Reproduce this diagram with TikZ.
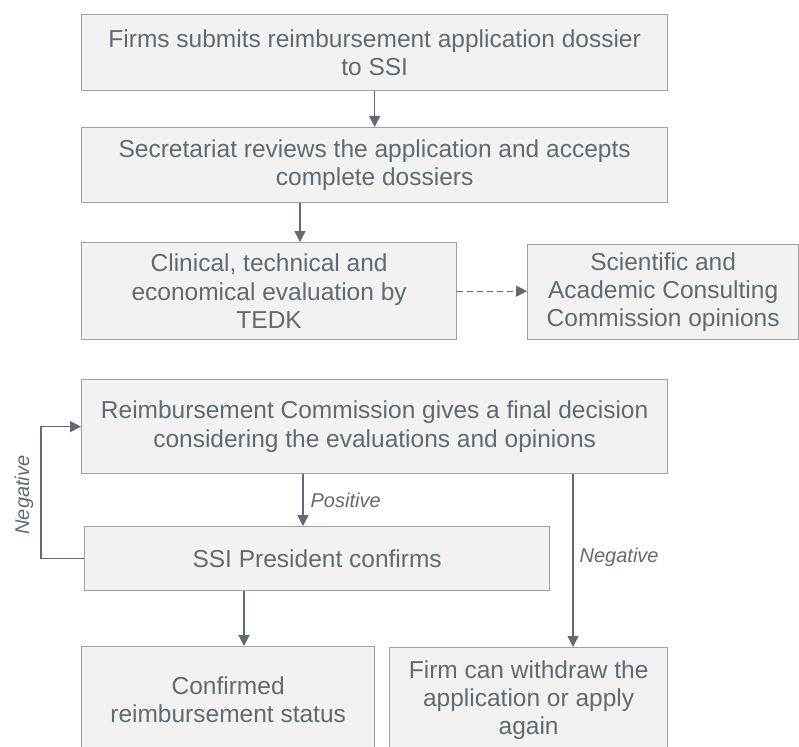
\documentclass[tikz,border=0pt]{standalone}
\usepackage{fontspec}
\setmainfont{Liberation Sans}
\usetikzlibrary{arrows.meta,calc}
\definecolor{txt}{HTML}{5F6B74}
\definecolor{boxfill}{HTML}{F2F2F2}
\definecolor{boxline}{HTML}{A0A0A0}
\definecolor{arrc}{HTML}{5F6A72}
\tikzset{
  box/.style={draw=boxline, line width=1.3pt, fill=boxfill, anchor=north west, inner sep=0pt,
    text=txt, align=center, font=\fontsize{24.5}{28.2}\selectfont},
  arr/.style={draw=arrc, line width=1.3pt, -{Triangle[length=11pt,width=11pt]}},
  lbl/.style={text=txt, font=\fontsize{20}{23}\selectfont\itshape, inner sep=0pt}
}
\begin{document}
\begin{tikzpicture}[x=1pt,y=-1pt]
\useasboundingbox (0,0) rectangle (799,746);
\clip (0,0) rectangle (799,746);
\node[box, minimum width=586pt, minimum height=76pt] (b1) at (81,14) {Firms submits reimbursement application dossier\\to SSI};
\node[box, minimum width=586pt, minimum height=75pt] (b2) at (81,127) {Secretariat reviews the application and accepts\\complete dossiers};
\node[box, minimum width=375pt, minimum height=97pt] (b3) at (81,242) {Clinical, technical and\\economical evaluation by\\TEDK};
\node[box, minimum width=271pt, minimum height=95pt] (b4) at (527,244) {Scientific and\\Academic Consulting\\Commission opinions};
\node[box, minimum width=586pt, minimum height=94pt] (b5) at (81,379) {Reimbursement Commission gives a final decision\\considering the evaluations and opinions};
\node[box, minimum width=465pt, minimum height=64pt] (b6) at (84,526) {SSI President confirms};
\node[box, minimum width=293pt, minimum height=106pt] (b7) at (81,646) {Confirmed\\reimbursement status};
\node[box, minimum width=278pt, minimum height=105pt] (b8) at (389,647) {Firm can withdraw the\\application or apply\\again};
\coordinate (x300) at (300,0);
\coordinate (x303) at (303,0);
\coordinate (x573) at (573,0);
\coordinate (x244) at (244,0);
\coordinate (loopx) at (41,0);
\draw[arr] (b1.south) -- (b2.north);
\draw[arr] (b2.south -| x300) -- (b3.north -| x300);
\draw[arr, dashed, dash pattern=on 6pt off 4pt] (b3.east) -- (b4.west |- b3.east);
\draw[arr] (b5.south -| x303) -- node[lbl, anchor=west, xshift=7pt, yshift=0pt] (pos) {Positive} (b6.north -| x303);
\draw[arr] (b5.south -| x573) -- node[lbl, anchor=west, xshift=6pt, yshift=3pt] (neg2) {Negative} (b8.north -| x573);
\draw[arr] (b6.west) -- (b6.west -| loopx) |- (b5.west);
\node[lbl, rotate=90] (neg1) at (24,495) {Negative};
\draw[arr] (b6.south -| x244) -- (b7.north -| x244);
\end{tikzpicture}
\end{document}
